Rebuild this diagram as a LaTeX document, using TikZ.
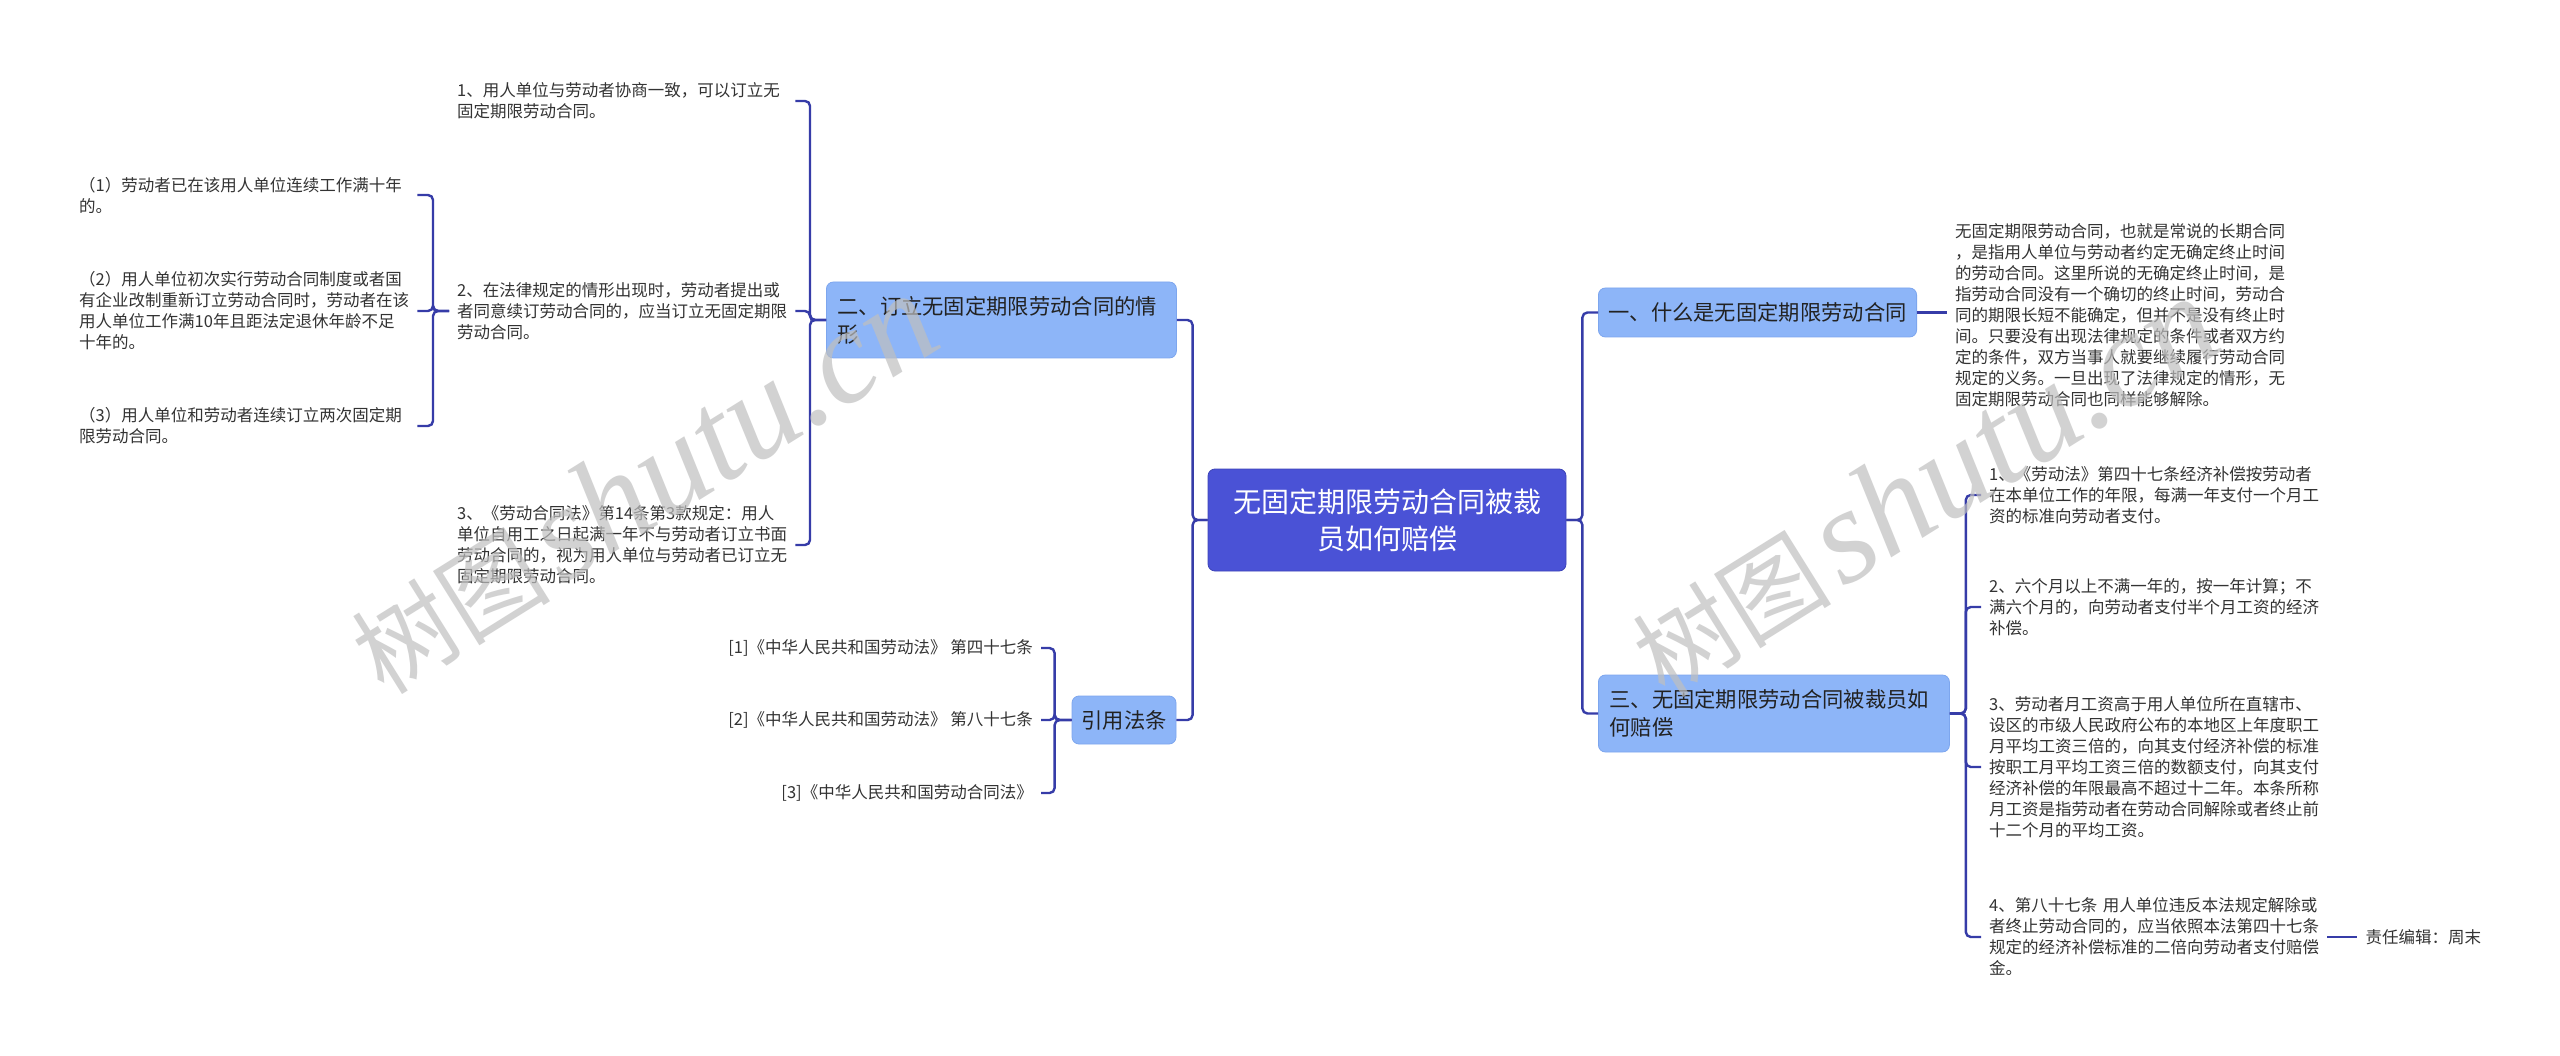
\documentclass[tikz,border=0pt]{standalone}
\usepackage{fontspec}
\setmainfont{Noto Sans CJK SC}
\newfontfamily\wmlatin{Liberation Serif}
\definecolor{linec}{HTML}{363CA8}
\definecolor{rootb}{HTML}{4A52D6}
\definecolor{rootbd}{HTML}{3C43B8}
\definecolor{lightb}{HTML}{8DB5F8}
\definecolor{lightbd}{HTML}{7DA6EE}
\definecolor{topict}{HTML}{222222}
\definecolor{leaft}{HTML}{333333}
\tikzset{
  conn/.style={draw=linec, line width=2.4pt, rounded corners=5pt},
  leaf/.style={anchor=west, inner xsep=8pt, inner ysep=2pt, text width=330pt, align=left, font=\fontsize{16.5}{21}\selectfont, text=leaft},
  reftext/.style={anchor=east, inner xsep=8pt, inner ysep=2pt, font=\fontsize{16.5}{21}\selectfont, text=leaft},
  topic/.style={fill=lightb, draw=lightbd, line width=0.8pt, rounded corners=7pt, font=\fontsize{21.3}{28}\selectfont, text=topict},
  rootn/.style={fill=rootb, draw=rootbd, line width=0.8pt, rounded corners=7pt, text=white, font=\fontsize{28}{37}\selectfont, align=center, minimum width=358pt, minimum height=102pt},
  wm/.style={text=black!25, text opacity=0.7, inner sep=0pt, rotate=32, anchor=base west}
}
\begin{document}
\begin{tikzpicture}[x=1pt,y=-1pt]
\fill[white] (0,0) rectangle (2560,1056);
\useasboundingbox (0,0) rectangle (2560,1056);

% root
\node[rootn] (root) at (1387,520) {无固定期限劳动合同被裁\\员如何赔偿};

% left topics
\node[topic, anchor=west, text width=328pt, inner xsep=11pt, minimum height=76pt, align=left] (n2) at (826,320) {二、订立无固定期限劳动合同的情\\形};
\node[topic, minimum width=104pt, minimum height=48pt, inner xsep=0pt] (ref) at (1124,720) {引用法条};

% right topics
\node[topic, anchor=west, minimum width=317pt, minimum height=49pt, inner xsep=10pt] (n1) at (1598,312.5) {一、什么是无固定期限劳动合同};
\node[topic, anchor=west, text width=329pt, inner xsep=11pt, minimum height=77pt, align=left] (n3) at (1598,713.5) {三、无固定期限劳动合同被裁员如\\何赔偿};

% children of n2
\node[leaf] (L1) at (449,101) {1、用人单位与劳动者协商一致，可以订立无\\固定期限劳动合同。};
\node[leaf] (L2) at (449,311) {2、在法律规定的情形出现时，劳动者提出或\\者同意续订劳动合同的，应当订立无固定期限\\劳动合同。};
\node[leaf] (L3) at (449,545) {3、《劳动合同法》第14条第3款规定：用人\\单位自用工之日起满一年不与劳动者订立书面\\劳动合同的，视为用人单位与劳动者已订立无\\固定期限劳动合同。};

% children of L2
\node[leaf] (C1) at (71,195) {（1）劳动者已在该用人单位连续工作满十年\\的。};
\node[leaf] (C2) at (71,311) {（2）用人单位初次实行劳动合同制度或者国\\有企业改制重新订立劳动合同时，劳动者在该\\用人单位工作满10年且距法定退休年龄不足\\十年的。};
\node[leaf] (C3) at (71,426) {（3）用人单位和劳动者连续订立两次固定期\\限劳动合同。};

% references
\node[reftext] (R1) at (1041,648) {[1]《中华人民共和国劳动法》 第四十七条};
\node[reftext] (R2) at (1041,720) {[2]《中华人民共和国劳动法》 第八十七条};
\node[reftext] (R3) at (1041,793) {[3]《中华人民共和国劳动合同法》};

% child of n1
\node[leaf] (T1) at (1947,315) {无固定期限劳动合同，也就是常说的长期合同\\，是指用人单位与劳动者约定无确定终止时间\\的劳动合同。这里所说的无确定终止时间，是\\指劳动合同没有一个确切的终止时间，劳动合\\同的期限长短不能确定，但并不是没有终止时\\间。只要没有出现法律规定的条件或者双方约\\定的条件，双方当事人就要继续履行劳动合同\\规定的义务。一旦出现了法律规定的情形，无\\固定期限劳动合同也同样能够解除。};

% children of n3
\node[leaf] (c1) at (1981,495) {1、《劳动法》第四十七条经济补偿按劳动者\\在本单位工作的年限，每满一年支付一个月工\\资的标准向劳动者支付。};
\node[leaf] (c2) at (1981,607) {2、六个月以上不满一年的，按一年计算；不\\满六个月的，向劳动者支付半个月工资的经济\\补偿。};
\node[leaf] (c3) at (1981,767) {3、劳动者月工资高于用人单位所在直辖市、\\设区的市级人民政府公布的本地区上年度职工\\月平均工资三倍的，向其支付经济补偿的标准\\按职工月平均工资三倍的数额支付，向其支付\\经济补偿的年限最高不超过十二年。本条所称\\月工资是指劳动者在劳动合同解除或者终止前\\十二个月的平均工资。};
\node[leaf] (c4) at (1981,937) {4、第八十七条 用人单位违反本法规定解除或\\者终止劳动合同的，应当依照本法第四十七条\\规定的经济补偿标准的二倍向劳动者支付赔偿\\金。};
\node[reftext, anchor=west] (ed) at ([xshift=30pt]c4.east) {责任编辑：周末};

% connectors
\draw[conn] (root.east) -- ++(16,0) |- (n1.west);
\draw[conn] (root.east) -- ++(16,0) |- (n3.west);
\draw[conn] (root.west) -- ++(-15,0) |- (n2.east);
\draw[conn] (root.west) -- ++(-15,0) |- (ref.east);

\draw[conn] (n2.west) -- ++(-16,0) |- (L1.east);
\draw[conn] (n2.west) -- ++(-16,0) |- (L2.east);
\draw[conn] (n2.west) -- ++(-16,0) |- (L3.east);

\draw[conn] (L2.west) -- ++(-16,0) |- (C1.east);
\draw[conn] (L2.west) -- ++(-16,0) |- (C2.east);
\draw[conn] (L2.west) -- ++(-16,0) |- (C3.east);

\draw[conn] (ref.west) -- ++(-17,0) |- (R1.east);
\draw[conn] (ref.west) -- ++(-17,0) |- (R2.east);
\draw[conn] (ref.west) -- ++(-17,0) |- (R3.east);

\draw[conn] (n1.east) -- (n1.east -| T1.west);

\draw[conn] (n3.east) -- ++(16,0) |- (c1.west);
\draw[conn] (n3.east) -- ++(16,0) |- (c2.west);
\draw[conn] (n3.east) -- ++(16,0) |- (c3.west);
\draw[conn] (n3.east) -- ++(16,0) |- (c4.west);

\draw[conn] (c4.east) -- (ed.west);

% watermarks
\node[wm] (wm1) at (384,697) {\fontsize{100}{100}\selectfont 树图\hspace{10pt}{\wmlatin\itshape\fontsize{135}{135}\selectfont shutu.cn}};
\node[wm] (wm2) at (1665,700) {\fontsize{100}{100}\selectfont 树图\hspace{10pt}{\wmlatin\itshape\fontsize{135}{135}\selectfont shutu.cn}};
\end{tikzpicture}
\end{document}
